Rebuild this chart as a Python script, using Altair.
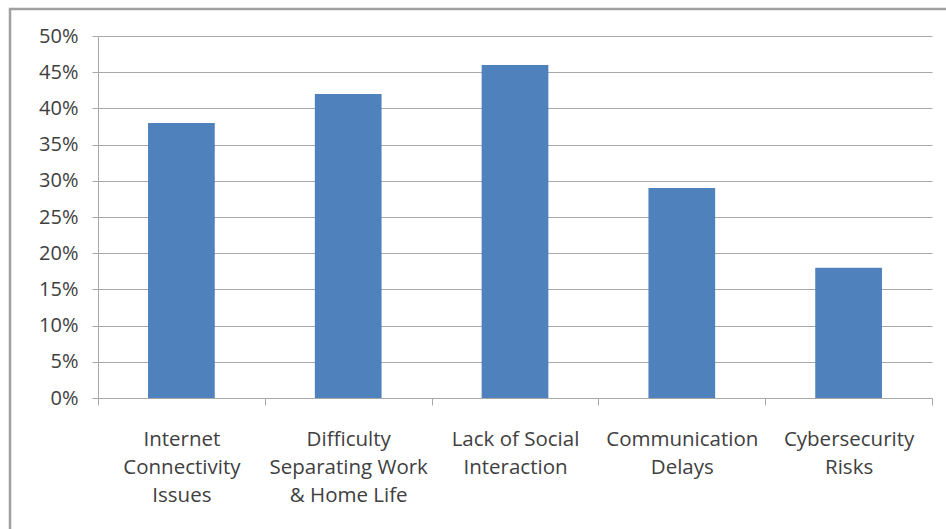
import altair as alt
import pandas as pd

# Survey: main challenges of remote work (share of respondents)
categories = [
    "Internet Connectivity Issues",
    "Difficulty Separating Work & Home Life",
    "Lack of Social Interaction",
    "Communication Delays",
    "Cybersecurity Risks",
]
label_lines = [
    ["Internet", "Connectivity", "Issues"],
    ["Difficulty", "Separating Work", "& Home Life"],
    ["Lack of Social", "Interaction"],
    ["Communication", "Delays"],
    ["Cybersecurity", "Risks"],
]
shares = [0.38, 0.42, 0.46, 0.29, 0.18]
y_ticks = [0, 0.05, 0.10, 0.15, 0.20, 0.25, 0.30, 0.35, 0.40, 0.45, 0.50]

df = pd.DataFrame({"category": categories, "share": shares})

# Map each category to its wrapped label
label_expr = "datum.value"
for cat, lines in zip(categories, label_lines):
    label_expr = f"datum.value === {cat!r} ? {lines!r} : ({label_expr})"

FONT = "Open Sans"
TEXT = "#404040"
GRID = "#a8a8a8"

TOTAL_W, TOTAL_H = 946, 529
PLOT_W, PLOT_H = 834, 362
PAD_L, PAD_T = 98, 36

bars = alt.Chart(df).mark_bar(
    color="#4F81BD", width=alt.RelativeBandSize(0.4)
).encode(
    x=alt.X(
        "category:N",
        sort=categories,
        scale=alt.Scale(paddingInner=0, paddingOuter=0),
        axis=alt.Axis(
            title=None,
            labelAngle=0,
            labelExpr=label_expr,
            labelFont=FONT,
            labelFontSize=20.5,
            labelColor=TEXT,
            labelLineHeight=28,
            labelPadding=24,
            labelBaseline="top",
            tickBand="extent",
            tickSize=7,
            tickColor=GRID,
            domainColor=GRID,
            grid=False,
        ),
    ),
    y=alt.Y(
        "share:Q",
        scale=alt.Scale(domain=[0, 0.5], nice=False),
        axis=alt.Axis(
            title=None,
            format=".0%",
            values=y_ticks,
            labelFont=FONT,
            labelFontSize=20,
            labelColor=TEXT,
            labelPadding=14,
            tickSize=6,
            tickColor=GRID,
            domainColor=GRID,
            gridColor=GRID,
            gridWidth=1,
        ),
    ),
)

# Outer frame around the whole chart
frame = alt.Chart(pd.DataFrame({"k": [0]})).mark_rect(
    fill=None, stroke="#a0a0a0", strokeWidth=2.5
).encode(
    x=alt.value(-88),
    x2=alt.value(PLOT_W + 40),
    y=alt.value(-27),
    y2=alt.value(PLOT_H + 160),
)

chart = (
    alt.layer(frame, bars)
    .properties(
        width=PLOT_W,
        height=PLOT_H,
        padding={
            "left": PAD_L,
            "top": PAD_T,
            "right": TOTAL_W - PAD_L - PLOT_W,
            "bottom": TOTAL_H - PAD_T - PLOT_H,
        },
        autosize=alt.AutoSizeParams(type="none"),
        background="white",
    )
    .configure_view(stroke=None)
)

chart.save("out.html", embed_options={"renderer": "svg", "actions": False})
